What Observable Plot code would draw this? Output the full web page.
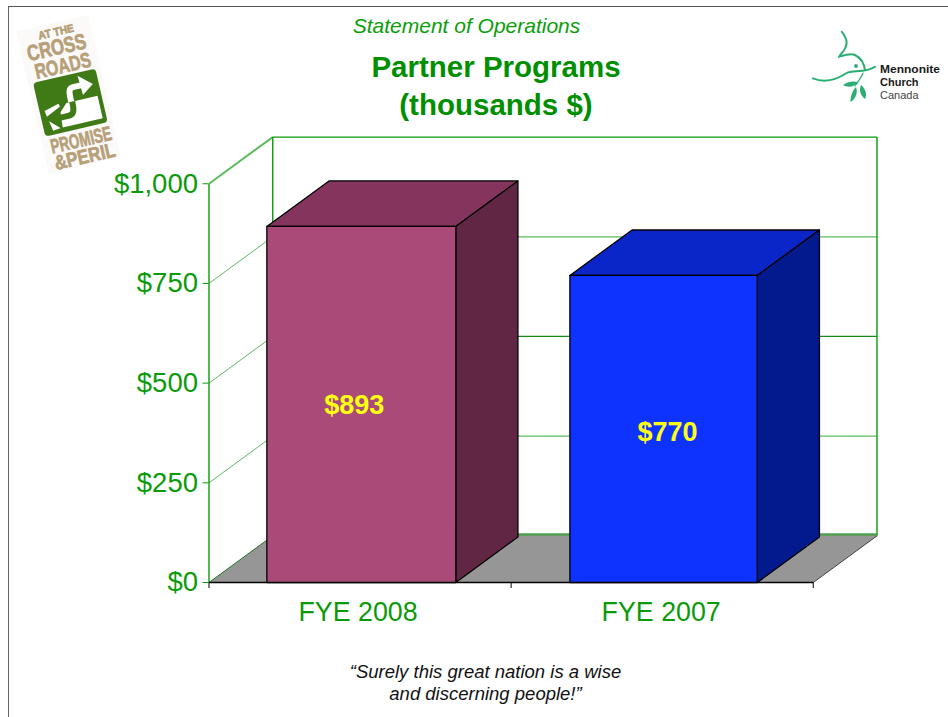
<!DOCTYPE html>
<html>
<head>
<meta charset="utf-8">
<script src="https://cdn.jsdelivr.net/npm/d3@7"></script>
<script src="https://cdn.jsdelivr.net/npm/@observablehq/plot@0.6"></script>
<style>
html,body{margin:0;padding:0;background:#fff;width:948px;height:717px;overflow:hidden}
#page{position:relative;width:948px;height:717px}
#frame{position:absolute;left:8px;top:6px;right:-2px;bottom:-2px;border-left:1.3px solid #666;border-top:1.3px solid #555}
#chart,#deco{position:absolute;left:0;top:0}
#chart svg{display:block}
</style>
</head>
<body>
<div id="page">
  <div id="frame"></div>
  <div id="chart"></div>
  <svg id="deco" width="948" height="717" font-family="'Liberation Sans',Arial,sans-serif">
    <!-- titles -->
    <text x="466.5" y="33" text-anchor="middle" font-size="21" font-style="italic" fill="#0a9e0a">Statement of Operations</text>
    <text x="496" y="77" text-anchor="middle" font-size="29.5" font-weight="bold" fill="#008f00">Partner Programs</text>
    <text x="496" y="115" text-anchor="middle" font-size="29.5" font-weight="bold" fill="#008f00">(thousands $)</text>
    <!-- caption -->
    <text x="485.5" y="678" text-anchor="middle" font-size="18.5" font-style="italic" fill="#111">“Surely this great nation is a wise</text>
    <text x="485.5" y="700" text-anchor="middle" font-size="18.5" font-style="italic" fill="#111">and discerning people!”</text>
    <!-- At the Crossroads badge -->
    <g transform="translate(33,83) rotate(-13)">
      <rect x="-5" y="-54" width="74" height="146" fill="#fbfaf9"/>
      <g font-family="'Liberation Sans Narrow','Liberation Sans',sans-serif" font-weight="bold" fill="#b79f78" stroke="#b79f78" stroke-width="0.7" text-anchor="middle">
        <text x="34" y="-41" font-size="11" textLength="36" lengthAdjust="spacingAndGlyphs">AT THE</text>
        <text x="31" y="-22" font-size="22" textLength="60" lengthAdjust="spacingAndGlyphs">CROSS</text>
        <text x="33" y="-3" font-size="21" textLength="57" lengthAdjust="spacingAndGlyphs">ROADS</text>
        <text x="34" y="73" font-size="20" textLength="62" lengthAdjust="spacingAndGlyphs">PROMISE</text>
        <text x="34" y="90" font-size="20" textLength="62" lengthAdjust="spacingAndGlyphs">&amp;PERIL</text>
      </g>
      <rect x="0" y="0" width="64" height="55" rx="4" fill="#3f7a17"/>
      <path d="M38 27 H60 V50 H19 L20 35 L28 27 Z" fill="#fff"/>
      <path d="M5 30 L20 26 L21 29 L6 36 Z" fill="#fff"/>
      <path d="M7 41 L17 50 L9 51 Z" fill="#fff"/>
      <path d="M46 13 H38 C33 13 33 18 33 27" fill="none" stroke="#fff" stroke-width="6"/>
      <path d="M45 3 L58 14.5 L46 23 Z" fill="#fff"/>
      <path d="M18 40 H27 C33 40 34 36 34 27" fill="none" stroke="#3f7a17" stroke-width="6"/>
      <path d="M6 38 L21 30 L17 50 Z" fill="#3f7a17"/>
    </g>
    <!-- Mennonite Church Canada logo -->
    <g fill="none" stroke="#2bae74" stroke-width="2" stroke-linecap="round">
      <path d="M841.7 31.7 C846 37 848 42 845.7 47 C844 52 840 54 839.3 56.7 C845 55 851 53 855 55 C861 58 864 63 865 70"/>
      <path d="M813 78.3 C824 83 836 80 846.7 73 C852 70 866 73 875 66.7"/>
      <path d="M863 73 C861 78 858 82 855 86" stroke-width="1.2"/>
    </g>
    <g fill="#2bae74">
      <circle cx="856" cy="66" r="1.9"/>
      <path d="M843 85 C848 81 854 81 858 82 C855 87 848 88 843 85 Z"/>
      <path d="M850.5 102 C850 96 853 90 856 87 C858 92 856 99 850.5 102 Z"/>
      <path d="M865 99 C860 95 859 90 861 85 C866 89 867 95 865 99 Z"/>
    </g>
    <g font-size="11" fill="#1a1a1a">
      <text x="880" y="73" font-weight="bold" textLength="60" lengthAdjust="spacingAndGlyphs">Mennonite</text>
      <text x="880" y="86" font-weight="bold">Church</text>
      <text x="880" y="99" fill="#444">Canada</text>
    </g>
  </svg>
</div>
<script>
const categories = ["FYE 2008", "FYE 2007"];
const values = [893, 770];
const valueLabels = ["$893", "$770"];
const yTicks = [0, 250, 500, 750, 1000];
const categoryTicks = [0, 1, 2];
const categoryCentres = [0.5, 1.5];

// Oblique-projection depth of the 3-D box, expressed in data units
const depthX = 0.211;
const depthY = 117;
const barDepth = 0.975;
const barSpans = [[0.1915, 0.8168], [1.1945, 1.8148]];

const frontColors = ["#aa4a78", "#0f33ff"];
const topColors = ["#85355d", "#0a26c8"];
const sideColors = ["#602643", "#021a8e"];
const green = "#0a9a0a";
const gridGreen = "#5dbb5d";

const at = (x, v, d = 0) => ({x: x + d * depthX, y: v + d * depthY});
const poly = (pts, options) => Plot.line(pts, {x: "x", y: "y", curve: "linear-closed", ...options});
const seg = (pts, options) => Plot.line(pts, {x: "x", y: "y", strokeLinecap: "butt", ...options});

// Back wall and side wall grid
const grid = yTicks.filter(v => v > 0).flatMap(v => [
  seg([at(0, v, 1), at(2, v, 1)], {stroke: v === 1000 ? green : v === 500 ? "#178a17" : gridGreen, strokeWidth: 1.2}),
  seg([at(0, v, 0), at(0, v, 1)], {stroke: gridGreen, strokeWidth: v === 1000 ? 2 : 1})
]);

const faces = values.flatMap((v, i) => {
  const [a, b] = barSpans[i];
  const edge = {stroke: "#000", strokeWidth: 1.3, strokeLinejoin: "round"};
  return [
    poly([at(a, v), at(a, v, barDepth), at(b, v, barDepth), at(b, v)], {fill: topColors[i], ...edge}),
    poly([at(b, 0), at(b, v), at(b, v, barDepth), at(b, 0, barDepth)], {fill: sideColors[i], ...edge}),
    poly([at(a, 0), at(a, v), at(b, v), at(b, 0)], {fill: frontColors[i], ...edge})
  ];
});

const labelOffsets = [[-7, 1], [4, 3.5]];
const categoryOffsets = [-2, -1];

const chart = Plot.plot({
  width: 948,
  height: 717,
  marginLeft: 208.5,
  marginRight: 71.5,
  marginTop: 136.6,
  marginBottom: 135,
  style: {background: "transparent", fontFamily: "'Liberation Sans',Arial,sans-serif", overflow: "visible"},
  x: {domain: [0, 2 + depthX], label: null},
  y: {domain: [0, 1000 + depthY], label: null},
  marks: [
    // walls
    ...grid,
    seg([at(0, 1000, 1), at(0, 0, 1)], {stroke: green, strokeWidth: 1.4}),
    seg([at(2, 1000, 1), at(2, 0, 1)], {stroke: green, strokeWidth: 1.4}),
    seg([at(0, 1000), at(0, 0)], {stroke: green, strokeWidth: 1.4}),
    seg([at(0, 0, 1), at(2, 0, 1)], {stroke: "#4f9f4f", strokeWidth: 3, dy: -1}),
    // floor
    poly([at(0, 0), at(2, 0), at(2, 0, 1), at(0, 0, 1)], {fill: "#969696"}),
    seg([at(0, 0), at(0, 0, 1)], {stroke: "#1d7a1d", strokeWidth: 1}),
    seg([at(2, 0), at(2, 0, 1)], {stroke: "#444", strokeWidth: 1}),
    // axes
    Plot.axisY({
      ticks: yTicks,
      tickFormat: d => "$" + d3.format(",")(d),
      tickSize: 6,
      tickPadding: 5,
      stroke: green,
      fill: green,
      fontSize: 27.5,
      label: null
    }),
    Plot.axisX({
      ticks: categoryTicks,
      tickFormat: () => "",
      tickSize: 6,
      stroke: "#000",
      label: null
    }),
    ...categories.map((c, i) => Plot.text([c], {
      x: () => categoryCentres[i],
      frameAnchor: "bottom",
      text: d => d,
      dx: categoryOffsets[i],
      dy: 30,
      lineAnchor: "middle",
      fill: green,
      fontSize: 26.8
    })),
    seg([at(0, 0), at(2, 0)], {stroke: "#000", strokeWidth: 1.3}),
    // bars
    ...faces,
    // value labels
    ...values.map((v, i) => Plot.text([v], {
      x: () => (barSpans[i][0] + barSpans[i][1]) / 2,
      y: d => d / 2,
      text: () => valueLabels[i],
      dx: labelOffsets[i][0],
      dy: labelOffsets[i][1],
      fill: "#ffff14",
      fontSize: 27,
      fontWeight: "bold"
    }))
  ]
});
document.getElementById("chart").appendChild(chart);
</script>
</body>
</html>
